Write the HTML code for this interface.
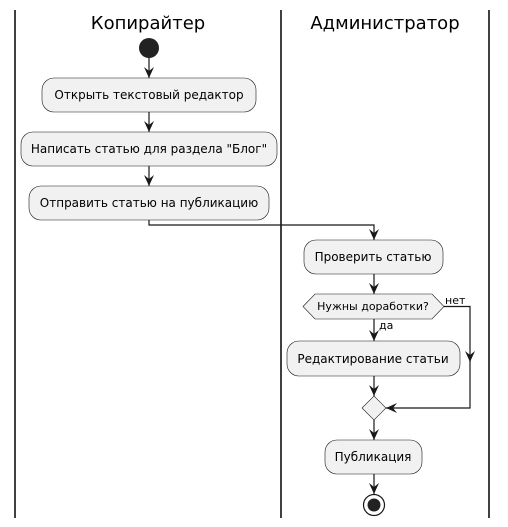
<!DOCTYPE html>
<html><head><meta charset="utf-8"><style>body{margin:0;background:#fff}svg{display:block}text{font-family:"DejaVu Sans",sans-serif;fill:#000}</style></head><body>
<svg width="508" height="527" viewBox="0 0 508 527">
<defs><marker id="a" viewBox="0 0 12 12" refX="11" refY="6" markerWidth="12" markerHeight="12" markerUnits="userSpaceOnUse" orient="auto"><path d="M0,1 L11,6 L0,11 L4,6 Z" fill="#181818"/></marker></defs>
<g stroke="#000" stroke-width="1.5"><line x1="15" y1="10" x2="15" y2="518"/><line x1="281" y1="10" x2="281" y2="518"/><line x1="489" y1="10" x2="489" y2="518"/></g>
<text x="148" y="29" font-size="18" text-anchor="middle">Копирайтер</text>
<text x="385" y="29" font-size="18" text-anchor="middle">Администратор</text>
<circle cx="149" cy="48" r="10" fill="#222"/>
<g fill="#f1f1f1" stroke="#181818" stroke-width="0.6">
<rect x="42" y="78" width="214" height="34" rx="12"/>
<rect x="21" y="132" width="256" height="34" rx="12"/>
<rect x="29" y="186" width="240" height="34" rx="12"/>
<rect x="304" y="240" width="139" height="34" rx="12"/>
<polygon points="303,306.5 315,294 432,294 444,306.5 432,319 315,319"/>
<rect x="287" y="341" width="173" height="35" rx="12"/>
<polygon points="374,396 386,408 374,420 362,408"/>
<rect x="325" y="440" width="97" height="34" rx="12"/>
</g>
<g font-size="12" text-anchor="middle">
<text x="149" y="99">Открыть текстовый редактор</text>
<text x="149" y="153">Написать статью для раздела "Блог"</text>
<text x="149" y="207">Отправить статью на публикацию</text>
<text x="373" y="261">Проверить статью</text>
<text x="373" y="363">Редактирование статьи</text>
<text x="373" y="461">Публикация</text>
</g>
<text x="373" y="310" font-size="11" text-anchor="middle">Нужны доработки?</text>
<text x="445" y="304" font-size="11">нет</text>
<text x="379" y="329" font-size="11">да</text>
<g stroke="#181818" stroke-width="1.2" fill="none" marker-end="url(#a)">
<line x1="149" y1="58" x2="149" y2="78"/>
<line x1="149" y1="112" x2="149" y2="132"/>
<line x1="149" y1="166" x2="149" y2="186"/>
<polyline points="149,220 149,225 374,225 374,240"/>
<line x1="374" y1="274" x2="374" y2="294"/>
<line x1="374" y1="319" x2="374" y2="341"/>
<line x1="374" y1="376" x2="374" y2="396"/>
<polyline points="444,306.5 470,306.5 470,362"/>
<polyline points="470,355 470,408 386,408"/>
<line x1="374" y1="420" x2="374" y2="440"/>
<line x1="374" y1="474" x2="374" y2="494"/>
</g>
<circle cx="374" cy="505" r="10.5" fill="#fff" stroke="#181818" stroke-width="1.2"/>
<circle cx="374" cy="505" r="6.5" fill="#222"/>
</svg>
</body></html>
